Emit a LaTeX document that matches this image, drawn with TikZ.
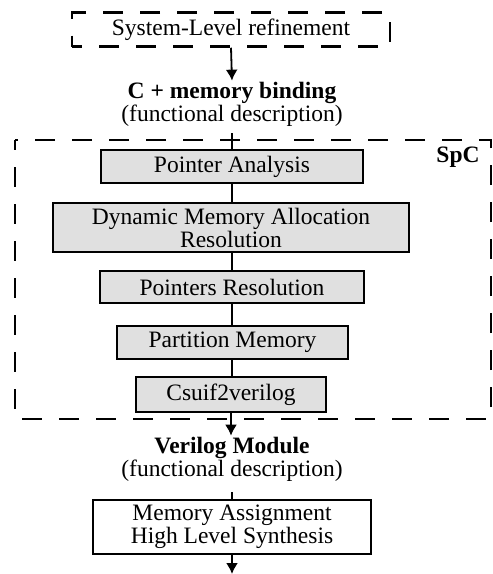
\documentclass[tikz,border=0pt]{standalone}
\usepackage{fontspec}
\setmainfont{Liberation Serif}
\usetikzlibrary{arrows.meta}
\tikzset{
  every node/.style={font=\fontsize{23.5}{23}\selectfont},
  stepbox/.style={draw, line width=2.5pt, fill=black!12, inner sep=0pt, align=center},
  whitebox/.style={draw, line width=2.5pt, fill=white, inner sep=0pt, align=center},
  dashbox/.style={draw, line width=2.5pt, dash pattern=on 20pt off 17pt, dash phase=10pt, inner sep=0pt},
  label/.style={align=center, inner sep=1pt},
  conn/.style={line width=1.8pt},
  arr/.style={line width=1.8pt, -{Latex[length=11pt,width=12pt]}}
}
\begin{document}
\begin{tikzpicture}[x=1pt,y=-1pt]
\useasboundingbox (0,0) rectangle (493,574);
\node[dashbox, minimum width=318pt, minimum height=34pt] (sys) at (231,29.5) {System-Level refinement};
\node[label] (cmb) at (232,104) {\textbf{C + memory binding}\\(functional description)};
\draw[dashbox] (15,140) rectangle (491,419);
\node[label, font=\fontsize{23.5}{23}\selectfont\bfseries] (spc) at (458,157) {SpC};
\node[stepbox, minimum width=262pt, minimum height=33pt] (pa) at (232,166.5) {Pointer Analysis};
\node[stepbox, minimum width=356pt, minimum height=49pt] (dma) at (231,227.5) {Dynamic Memory Allocation\\Resolution};
\node[stepbox, minimum width=264pt, minimum height=32pt] (pr) at (232,287) {Pointers Resolution};
\node[stepbox, minimum width=231pt, minimum height=33pt] (pm) at (232.5,342.5) {Partition Memory};
\node[stepbox, minimum width=190pt, minimum height=35pt] (cv) at (231,394.5) {Csuif2verilog};
\node[label] (vm) at (232,459) {\textbf{Verilog Module}\\(functional description)};
\node[whitebox, minimum width=278pt, minimum height=54pt] (mah) at (232,527) {Memory Assignment\\High Level Synthesis};
\coordinate (out) at (232,574);
\draw[arr] (sys.south) -- (cmb.north);
\draw[conn] ([yshift=-6pt]cmb.south) -- (pa.north);
\draw[conn] (pa.south) -- (pa.south |- dma.north);
\draw[conn] (pa.south |- dma.south) -- (pr.north);
\draw[conn] (pr.south) -- (pr.south |- pm.north);
\draw[conn] (pr.south |- pm.south) -- (pr.south |- cv.north);
\draw[arr] (cv.south) -- (cv.south |- vm.north);
\draw[conn] ([yshift=-10pt]vm.south) -- (mah.north);
\draw[arr] (mah.south) -- (out);
\end{tikzpicture}
\end{document}
